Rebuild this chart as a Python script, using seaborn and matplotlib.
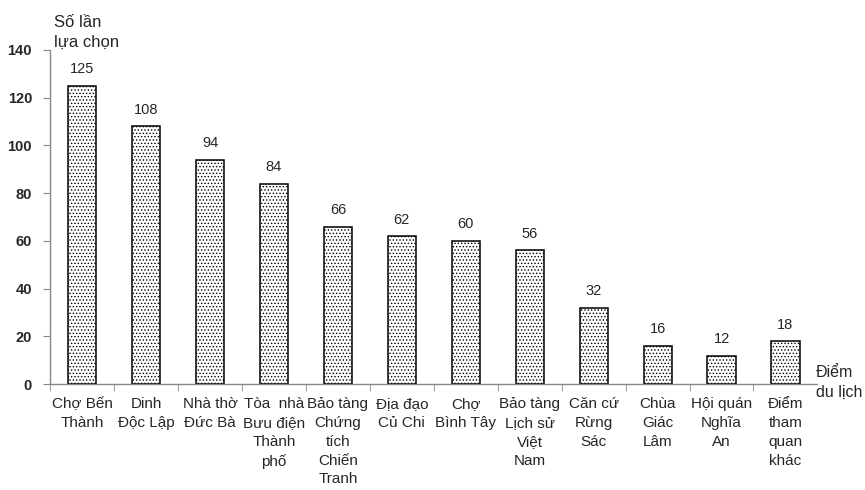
import matplotlib
matplotlib.use("Agg")
import matplotlib.pyplot as plt
import seaborn as sns
import pandas as pd

places = ["Chợ Bến\nThành", "Dinh\nĐộc Lập", "Nhà thờ\nĐức Bà", "Tòa  nhà\nBưu điện\nThành\nphố",
          "Bảo tàng\nChứng\ntích\nChiến\nTranh", "Địa đạo\nCủ Chi", "Chợ\nBình Tây",
          "Bảo tàng\nLịch sử\nViệt\nNam", "Căn cứ\nRừng\nSác", "Chùa\nGiác\nLâm",
          "Hội quán\nNghĩa\nAn", "Điểm\ntham\nquan\nkhác"]
counts = [125, 108, 94, 84, 66, 62, 60, 56, 32, 16, 12, 18]

df = pd.DataFrame({"place": places, "count": counts})

sns.set_style("white")
plt.rcParams["font.family"] = ["Liberation Sans", "DejaVu Sans"]
plt.rcParams["hatch.linewidth"] = 0.6

fig = plt.figure(figsize=(8.65, 4.9), dpi=100)
ax = fig.add_axes([0.058, 0.216, 0.887, 0.682])

sns.barplot(data=df, x="place", y="count", color="white", edgecolor="black",
            linewidth=1.1, width=0.44, hatch=".....", ax=ax)

for i, v in enumerate(counts):
    ax.text(i, v + 4, str(v), ha="center", va="bottom", fontsize=10.5)

ax.set_ylim(0, 140)
ax.set_xlim(-0.5, len(places) - 0.5)
ax.set_yticks(range(0, 141, 20))
ax.set_yticklabels([str(t) for t in range(0, 141, 20)], fontweight="bold", fontsize=10.5)
ax.tick_params(axis="y", length=5, color="#888888", direction="out", left=True, pad=8)

ax.set_xticks(range(len(places)))
ax.set_xticklabels(places, fontsize=11, linespacing=1.45, va="top")
ax.tick_params(axis="x", length=0, pad=9)
ax.set_xticks([i - 0.5 for i in range(len(places))], minor=True)
ax.tick_params(axis="x", which="minor", length=5, color="#888888", bottom=True, direction="out")

for s in ["top", "right"]:
    ax.spines[s].set_visible(False)
for s in ["left", "bottom"]:
    ax.spines[s].set_color("#888888")
    ax.spines[s].set_linewidth(1)

ax.set_xlabel("")
ax.set_ylabel("")

fig.text(0.062, 0.898, "Số lần\nlựa chọn", fontsize=12, ha="left", va="bottom", linespacing=1.45)
fig.text(0.943, 0.183, "Điểm\ndu lịch", fontsize=11.5, ha="left", va="bottom", linespacing=1.45)

fig.savefig("out.png", dpi=100)
